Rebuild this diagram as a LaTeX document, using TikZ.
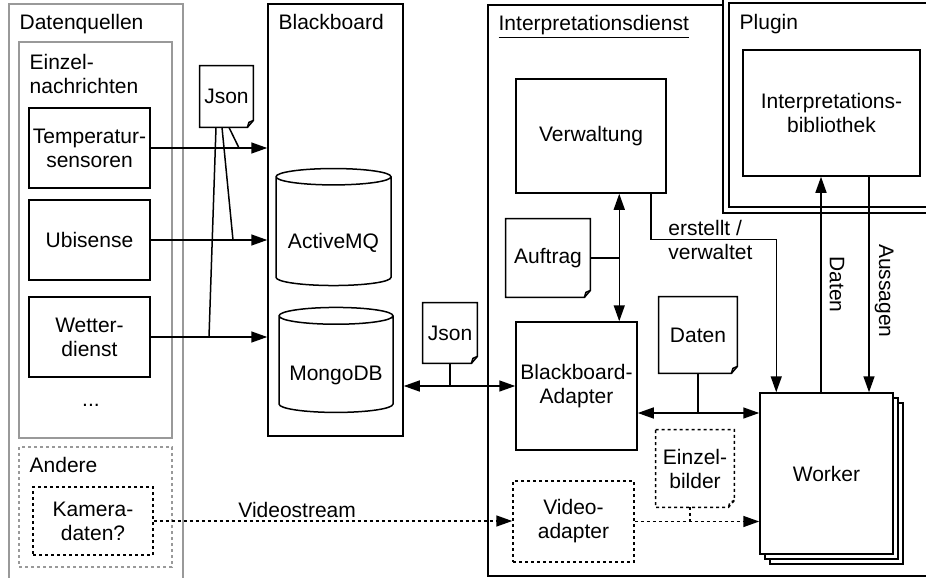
\documentclass[tikz,border=0pt]{standalone}
\usepackage{fontspec}
\setmainfont{Liberation Sans}
\usetikzlibrary{arrows.meta, positioning, calc, shapes.geometric, shadows}
\definecolor{rahmengrau}{HTML}{999999}
\tikzset{
  kasten/.style={draw, line width=0.75pt, fill=white, align=center, inner sep=0pt},
  gruppe/.style={draw=rahmengrau, line width=0.75pt, inner sep=0pt},
  gestrichelt/.style={dash pattern=on 1.5pt off 1.5pt},
  groesse/.style 2 args={minimum width=#1*0.5pt, minimum height=#2*0.5pt},
  titel/.style={anchor=base west, inner sep=0pt},
  notiz/.style={align=center, inner sep=0pt},
  speicher/.style={cylinder, shape border rotate=90, aspect=0.18, draw, line width=0.75pt, inner sep=0pt, text depth=0pt},
  pfeil/.style={-{Triangle[length=8pt, width=5.5pt]}, line width=0.75pt},
  dpfeil/.style={{Triangle[length=8pt, width=5.5pt]}-{Triangle[length=8pt, width=5.5pt]}, line width=0.75pt},
  linie/.style={line width=0.75pt},
}
% Notizblatt mit Eselsohr
\newcommand{\eselsohr}[2][]{%
  \draw[line width=0.75pt, #1] (#2.north west) -- (#2.north east) -- ([yshift=3.5pt]#2.south east)
    -- ([xshift=-3pt]#2.south east) -- (#2.south west) -- cycle;
  \draw[line width=0.75pt, #1] ([yshift=3.5pt]#2.south east) -- ([xshift=-2.25pt, yshift=2.5pt]#2.south east)
    -- ([xshift=-3pt]#2.south east);
}
\begin{document}
\begin{tikzpicture}[x=0.5pt, y=-0.5pt, font=\fontsize{10.5}{12}\selectfont]
  \clip (0,0) rectangle (926,578);

  % Datenquellen
  \node[gruppe, groesse={174}{596}] (dq) at (96,302) {};
  \node[titel] (dqtitel) at ($(dq.north west)+(11,26)$) {Datenquellen};
  \node[gruppe, groesse={153}{396}] (einzel) at (95.5,240) {};
  \node[anchor=north west, align=left, inner sep=0pt] (einzeltitel) at ($(einzel.north west)+(11,13)$) {Einzel-\\nachrichten};
  \node[kasten, groesse={121}{80}] (temp) at (89.5,148) {Temperatur-\\sensoren};
  \node[kasten, groesse={121}{80}] (ubi) at (89.5,240) {Ubisense};
  \node[kasten, groesse={121}{80}] (wetter) at (89.5,337) {Wetter-\\dienst};
  \node (mehr) at (91,405) {...};
  \node[gruppe, gestrichelt, groesse={153}{120}] (andere) at (95.5,507) {};
  \node[titel] (anderetitel) at ($(andere.north west)+(11,26)$) {Andere};
  \node[kasten, gestrichelt, groesse={120}{68}] (kamera) at (93,521) {Kamera-\\daten?};

  % Blackboard
  \node[kasten, groesse={135}{432}] (bb) at (335.5,220) {};
  \node[titel] (bbtitel) at ($(bb.north west)+(11,26)$) {Blackboard};
  \node[speicher, groesse={115}{117}, text height=16.5pt] (amq) at (333.5,231.5) {ActiveMQ};
  \node[speicher, groesse={114}{105}, text height=15.6pt] (mongo) at (336,364.5) {MongoDB};

  \node[notiz, groesse={53}{61}] (json1) at (226.5,96.5) {Json};
  \eselsohr{json1}
  \draw[pfeil] (temp.east) -- (temp.east -| bb.west);
  \draw[pfeil] (ubi.east) -- (ubi.east -| bb.west);
  \draw[pfeil] (wetter.east) -- (wetter.east -| bb.west);
  \coordinate (jt) at (239,148);
  \coordinate (ju) at (233,240);
  \coordinate (jw) at (209,337);
  \draw[linie] ($(json1.south)+(2.5,0)$) -- (jt);
  \draw[linie] ($(json1.south)+(-4.5,0)$) -- (ju);
  \draw[linie] ($(json1.south)+(-10.5,0)$) -- (jw);

  % Interpretationsdienst
  \node[kasten, groesse={462}{571}] (dienst) at (719,290.5) {};
  \node[titel] (diensttitel) at ($(dienst.north west)+(11,26)$) {\underline{Interpretationsdienst}};
  \node[kasten, double, double distance=2.25pt, groesse={219}{210}] (plugin) at (835.5,105) {};
  \node[titel] (plugintitel) at ($(plugin.north west)+(14,30)$) {Plugin};
  \node[kasten, groesse={177}{126}] (lib) at (831.5,113) {Interpretations-\\bibliothek};

  \node[kasten, groesse={150}{114}] (verw) at (591,136) {Verwaltung};
  \node[notiz, groesse={84}{78}] (auftrag) at (548,258) {Auftrag};
  \eselsohr{auftrag}
  \node[kasten, groesse={121}{128}] (adapter) at (576.5,386) {Blackboard-\\Adapter};
  \node[notiz, groesse={54}{60}] (json2) at (450,333) {Json};
  \eselsohr{json2}
  \node[notiz, groesse={78}{76}] (datennotiz) at (698,335) {Daten};
  \eselsohr{datennotiz}
  \node[kasten, groesse={133}{161}, double copy shadow={shadow xshift=2.5pt, shadow yshift=-2.5pt, draw, fill=white, line width=0.75pt}] (worker) at (826.5,473.5) {Worker};
  \node[notiz, groesse={78}{77}] (einzelbilder) at (695,468.5) {Einzel-\\bilder};
  \eselsohr[gestrichelt]{einzelbilder}
  \node[kasten, gestrichelt, groesse={121}{81}] (video) at (573.5,521.5) {Video-\\adapter};

  % Verbindungen
  \coordinate (va) at ($(adapter.north west)+(104,0)$);
  \draw[dpfeil] (va) -- (va |- verw.south);
  \draw[linie] (auftrag.east) -- (auftrag.east -| va);
  \draw[dpfeil] (adapter.west -| bb.east) -- (adapter.west);
  \draw[linie] (json2.south) -- (json2.south |- adapter.west);
  \coordinate (aw) at ($(adapter.east)+(0,27)$);
  \draw[dpfeil] (aw) -- (aw -| worker.west);
  \draw[linie] (datennotiz.south) -- (datennotiz.south |- aw);

  \draw[pfeil] ($(verw.south east)+(-16,0)$) |- ($(worker.north west)+(17,-153)$) -- ($(worker.north west)+(17,0)$);
  \node[anchor=west, align=left, inner sep=0pt] (erstellt) at (668,240) {erstellt /\\verwaltet};

  \coordinate (wd) at ($(worker.north)+(-5.5,0)$);
  \coordinate (wa) at ($(worker.north)+(42.5,0)$);
  \draw[pfeil] (wd) -- node[midway, rotate=-90, anchor=south, inner sep=4pt] {Daten} (wd |- lib.south);
  \draw[pfeil] (wa |- lib.south) -- node[pos=0.53, rotate=-90, anchor=south, inner sep=2.5pt] {Aussagen} (wa);

  \draw[pfeil, gestrichelt] (kamera.east) -- node[pos=0.4, above, inner sep=1.5pt] {Videostream} (kamera.east -| video.west);
  \draw[pfeil, gestrichelt] (video.east) -- (video.east -| worker.west);
  \coordinate (eb) at ($(einzelbilder.south)+(-5,0)$);
  \draw[linie, gestrichelt] (eb) -- (eb |- video.east);
\end{tikzpicture}
\end{document}
